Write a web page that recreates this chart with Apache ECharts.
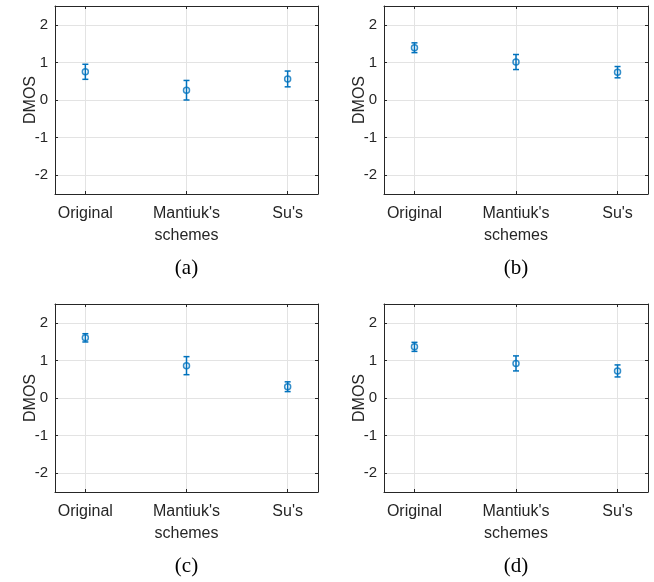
<!DOCTYPE html>
<html>
<head>
<meta charset="utf-8" />
<title>DMOS</title>
<script src="https://cdn.jsdelivr.net/npm/echarts@6/dist/echarts.min.js"></script>
<style>
  html, body { margin: 0; padding: 0; background: #fff; }
  #chart { width: 654px; height: 582px; }
</style>
</head>
<body>
<div id="chart"></div>
<script>
  // data
  var categories = ['Original', "Mantiuk's\nschemes", "Su's"];
  var xPos = [1, 2, 3];
  var yTicks = [-2, -1, 0, 1, 2];
  var captions = ['(a)', '(b)', '(c)', '(d)'];

  var meanA = [0.75, 0.26, 0.56];
  var errA  = [0.20, 0.26, 0.21];
  var meanB = [1.39, 1.01, 0.74];
  var errB  = [0.13, 0.20, 0.15];
  var meanC = [1.60, 0.86, 0.30];
  var errC  = [0.11, 0.24, 0.13];
  var meanD = [1.36, 0.92, 0.72];
  var errD  = [0.12, 0.20, 0.16];

  var means = [meanA, meanB, meanC, meanD];
  var errs = [errA, errB, errC, errD];

  var blue = '#0072BD';
  var axisCol = '#262626';
  var gridCol = '#e3e3e3';
  var sans = '"Liberation Sans", Arial, sans-serif';

  var boxes = [
    { left: 55, top: 6, width: 263, height: 188 },
    { left: 384, top: 6, width: 264, height: 188 },
    { left: 55, top: 304, width: 263, height: 188 },
    { left: 384, top: 304, width: 264, height: 188 }
  ];

  var grid = [], xAxis = [], yAxis = [], series = [], graphic = [];

  boxes.forEach(function (b, i) {
    grid.push({ left: b.left, top: b.top, width: b.width, height: b.height, containLabel: false });

    // bottom + top x axes
    xAxis.push({
      type: 'value', gridIndex: i, min: 0.7, max: 3.3, position: 'bottom',
      axisLine: { show: true, onZero: false, lineStyle: { color: axisCol, width: 1 } },
      axisTick: { show: true, inside: true, length: 3, customValues: xPos, lineStyle: { color: axisCol } },
      axisLabel: {
        show: true, customValues: xPos, margin: 9,
        color: axisCol, fontFamily: sans, fontSize: 16, lineHeight: 22,
        formatter: function (v) { return categories[Math.round(v) - 1] || ''; }
      },
      splitLine: { show: true, lineStyle: { color: gridCol, width: 1 } }
    });
    xAxis.push({
      type: 'value', gridIndex: i, min: 0.7, max: 3.3, position: 'top',
      axisLine: { show: true, onZero: false, lineStyle: { color: axisCol, width: 1 } },
      axisTick: { show: true, inside: true, length: 3, customValues: xPos, lineStyle: { color: axisCol } },
      axisLabel: { show: false },
      splitLine: { show: false }
    });

    // left + right y axes
    yAxis.push({
      type: 'value', gridIndex: i, min: -2.5, max: 2.5, position: 'left',
      name: 'DMOS', nameLocation: 'middle', nameGap: 16, nameRotate: 90, nameMoveOverlap: false,
      nameTextStyle: { color: axisCol, fontFamily: sans, fontSize: 16 },
      axisLine: { show: true, onZero: false, lineStyle: { color: axisCol, width: 1 } },
      axisTick: { show: true, inside: true, length: 3, customValues: yTicks, lineStyle: { color: axisCol } },
      axisLabel: { show: true, customValues: yTicks, margin: 7, color: axisCol, fontFamily: sans, fontSize: 15 },
      splitLine: { show: true, lineStyle: { color: gridCol, width: 1 } }
    });
    yAxis.push({
      type: 'value', gridIndex: i, min: -2.5, max: 2.5, position: 'right',
      axisLine: { show: true, onZero: false, lineStyle: { color: axisCol, width: 1 } },
      axisTick: { show: true, inside: true, length: 3, customValues: yTicks, lineStyle: { color: axisCol } },
      axisLabel: { show: false },
      splitLine: { show: false }
    });

    var data = xPos.map(function (x, k) { return [x, means[i][k], errs[i][k]]; });

    series.push({
      type: 'custom', xAxisIndex: 2 * i, yAxisIndex: 2 * i,
      data: data,
      renderItem: function (params, api) {
        var x = api.value(0), m = api.value(1), e = api.value(2);
        var hi = api.coord([x, m + e]);
        var lo = api.coord([x, m - e]);
        var w = 3;
        var st = { stroke: blue, lineWidth: 1.5 };
        return {
          type: 'group',
          children: [
            { type: 'line', shape: { x1: hi[0], y1: hi[1], x2: lo[0], y2: lo[1] }, style: st },
            { type: 'line', shape: { x1: hi[0] - w, y1: hi[1], x2: hi[0] + w, y2: hi[1] }, style: st },
            { type: 'line', shape: { x1: lo[0] - w, y1: lo[1], x2: lo[0] + w, y2: lo[1] }, style: st }
          ]
        };
      },
      z: 3
    });
    series.push({
      type: 'scatter', xAxisIndex: 2 * i, yAxisIndex: 2 * i,
      data: data.map(function (d) { return [d[0], d[1]]; }),
      symbol: 'circle', symbolSize: 6,
      itemStyle: { color: 'rgba(0,0,0,0)', borderColor: blue, borderWidth: 1.5 },
      z: 4
    });

    graphic.push({
      type: 'text',
      x: b.left + b.width / 2,
      y: b.top + b.height + 74,
      style: {
        text: captions[i], textAlign: 'center', textVerticalAlign: 'middle',
        fill: '#000', font: '21px "Liberation Serif", "Times New Roman", serif'
      }
    });
  });

  var myChart = echarts.init(document.getElementById('chart'));
  myChart.setOption({
    animation: false,
    grid: grid,
    xAxis: xAxis,
    yAxis: yAxis,
    series: series,
    graphic: graphic
  });
</script>
</body>
</html>
